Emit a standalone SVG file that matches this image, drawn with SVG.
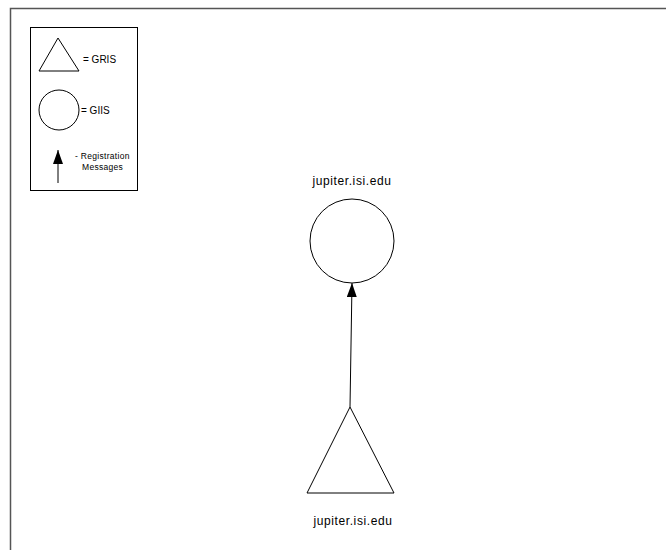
<svg xmlns="http://www.w3.org/2000/svg" width="666" height="550" viewBox="0 0 666 550">
<style>
.s{fill:none;stroke:#000;stroke-width:1}
.t{font-family:"Liberation Sans",Arial,sans-serif;fill:#000}
.m{font-size:12px;letter-spacing:0.6px;text-anchor:middle}
.l{font-size:10px}
.r{font-size:8.5px;letter-spacing:0.3px}
</style>
<defs>
<marker id="ah" viewBox="0 0 14 10" refX="14" refY="5" markerWidth="14" markerHeight="10" markerUnits="userSpaceOnUse" orient="auto">
<path d="M0,0 L14,5 L0,10 Z" fill="#000"/>
</marker>
</defs>
<rect x="0" y="0" width="666" height="550" fill="#fff"/>
<rect x="10.5" y="8.5" width="670" height="560" fill="none" stroke="#555" stroke-width="1.5"/>
<g id="legend">
<rect x="30.5" y="27.5" width="107" height="163" class="s"/>
<polygon points="58,38 39,71 79,71" class="s"/>
<text x="83" y="63" class="t l">= GRIS</text>
<circle cx="59" cy="110" r="20" class="s"/>
<text x="81" y="114" class="t l">= GIIS</text>
<line x1="58" y1="183" x2="58" y2="150" class="s" marker-end="url(#ah)"/>
<text x="75" y="159" class="t r">- Registration</text>
<text x="82" y="170" class="t r">Messages</text>
</g>
<g id="connectors">
<line x1="350" y1="407" x2="352" y2="283" class="s" marker-end="url(#ah)"/>
</g>
<g id="giis">
<text x="352" y="185" class="t m">jupiter.isi.edu</text>
<circle cx="352" cy="241" r="42" class="s"/>
</g>
<g id="gris">
<polygon points="350,407 307,493 394,493" class="s"/>
<text x="353" y="525" class="t m">jupiter.isi.edu</text>
</g>
</svg>
